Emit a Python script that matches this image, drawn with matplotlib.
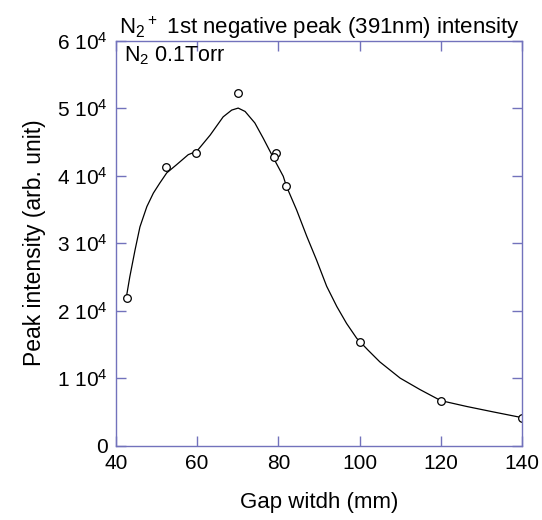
import numpy as np
import matplotlib
matplotlib.use("Agg")
import matplotlib.pyplot as plt

plt.rcParams['font.family'] = ['Liberation Sans', 'DejaVu Sans']
plt.rcParams['mathtext.default'] = 'regular'

# measured points
gap = [42.6, 52.3, 59.7, 70.0, 79.4, 79.0, 82.0, 100.0, 120.0, 140.0]
intensity = [2.18e4, 4.13e4, 4.34e4, 5.22e4, 4.34e4, 4.28e4, 3.85e4, 1.53e4, 0.667e4, 0.415e4]

# smooth guide curve (units of 1e4)
curve_x = [42.5, 43.4, 44.7, 45.9, 47.6, 49.2, 50.8, 52.5, 54.9, 57.8, 59.9, 63.2,
           66.4, 68.5, 70.1, 71.8, 74.2, 76.3, 78.8, 81.2, 82.0, 84.5, 87.0, 89.4,
           91.9, 94.4, 96.8, 99.3, 102.0, 105.0, 110.0, 114.9, 120.0, 126.4, 132.9, 140.0]
curve_y = [2.18, 2.50, 2.90, 3.24, 3.54, 3.74, 3.89, 4.04, 4.16, 4.31, 4.36, 4.60,
           4.87, 4.97, 5.00, 4.95, 4.78, 4.55, 4.26, 3.99, 3.84, 3.49, 3.10, 2.75,
           2.36, 2.06, 1.81, 1.59, 1.42, 1.24, 1.00, 0.83, 0.667, 0.58, 0.50, 0.415]

yticks = [0, 1e4, 2e4, 3e4, 4e4, 5e4, 6e4]
ytick_labels = ['0', '1 10$^4$', '2 10$^4$', '3 10$^4$', '4 10$^4$', '5 10$^4$', '6 10$^4$']
xticks = [40, 60, 80, 100, 120, 140]

axcol = '#7272bc'

fig = plt.figure(figsize=(5.42, 5.2), dpi=100)
ax = fig.add_axes([0.214, 0.143, 0.749, 0.779])

ax.plot(curve_x, np.array(curve_y) * 1e4, color='black', lw=0.9)
ax.plot(gap, intensity, 'o', mfc='white', mec='black', ms=5.5, mew=0.9)

ax.set_xlim(40, 140)
ax.set_ylim(0, 6e4)
ax.set_xticks(xticks)
ax.set_yticks(yticks)
ax.set_yticklabels(ytick_labels)

for s in ax.spines.values():
    s.set_color(axcol)
    s.set_linewidth(1.0)
ax.tick_params(direction='in', length=7, width=1.0, color=axcol,
               top=True, right=True, labelsize=15, pad=6)

ax.set_xlabel('Gap witdh (mm)', fontsize=16, labelpad=14)
ax.set_ylabel('Peak intensity (arb. unit)', fontsize=16.5, labelpad=8)
ax.set_title('N$_2$$^+$ 1st negative peak (391nm) intensity', fontsize=16, pad=5)
ax.text(0.02, 0.99, 'N$_2$ 0.1Torr', transform=ax.transAxes, fontsize=15.5,
        va='top', ha='left')

fig.savefig('out.png', dpi=100)
